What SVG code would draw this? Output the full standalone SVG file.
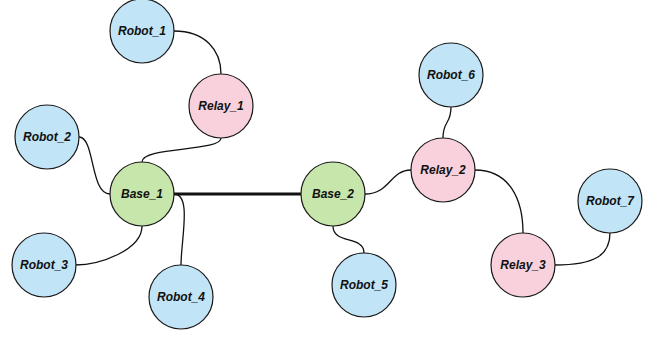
<svg xmlns="http://www.w3.org/2000/svg" width="653" height="337" viewBox="0 0 653 337">
<style>
.n{stroke:#1a1a1a;stroke-width:1.2}
.robot{fill:#c1e4f7}
.relay{fill:#f9d1dc}
.base{fill:#c6e6ab}
text{font-family:"Liberation Sans",Arial,sans-serif;font-size:12px;font-weight:bold;font-style:italic;fill:#111;text-anchor:middle;dominant-baseline:central}
.e{fill:none;stroke:#111;stroke-width:1.3}
</style>
<rect width="653" height="337" fill="#fff"/>
<g id="connectors">
<path class="e" d="M174,31 C205,31 221,50 221,74"/>
<path class="e" d="M221,138 C221,152 142,146 142,162"/>
<path class="e" d="M79,137 C95,137 90,194 110,194"/>
<path class="e" d="M142,226 C142,250 100,265 75,265"/>
<path class="e" d="M174,194 C192,194 181,240 181,265"/>
<path class="e" d="M174,194 L301,194" style="stroke-width:3"/>
<path class="e" d="M333,226 C333,245 364,235 364,253"/>
<path class="e" d="M365,194 C390,194 390,170 411,170"/>
<path class="e" d="M451,107 C451,125 443,120 443,138"/>
<path class="e" d="M475,170 C510,170 523,200 523,233"/>
<path class="e" d="M555,265 C595,265 610,255 610,233"/>
</g>
<g id="Robot_1"><circle class="n robot" cx="142" cy="31" r="32"/><text x="142" y="31">Robot_1</text></g>
<g id="Relay_1"><circle class="n relay" cx="221" cy="106" r="32"/><text x="221" y="106">Relay_1</text></g>
<g id="Robot_2"><circle class="n robot" cx="47" cy="137" r="32"/><text x="47" y="137">Robot_2</text></g>
<g id="Base_1"><circle class="n base" cx="142" cy="194" r="32"/><text x="142" y="194">Base_1</text></g>
<g id="Robot_3"><circle class="n robot" cx="44" cy="265" r="32"/><text x="44" y="265">Robot_3</text></g>
<g id="Robot_4"><circle class="n robot" cx="181" cy="297" r="32"/><text x="181" y="297">Robot_4</text></g>
<g id="Base_2"><circle class="n base" cx="333" cy="194" r="32"/><text x="333" y="194">Base_2</text></g>
<g id="Robot_5"><circle class="n robot" cx="364" cy="285" r="32"/><text x="364" y="285">Robot_5</text></g>
<g id="Robot_6"><circle class="n robot" cx="451" cy="75" r="32"/><text x="451" y="75">Robot_6</text></g>
<g id="Relay_2"><circle class="n relay" cx="443" cy="170" r="32"/><text x="443" y="170">Relay_2</text></g>
<g id="Relay_3"><circle class="n relay" cx="523" cy="265" r="32"/><text x="523" y="265">Relay_3</text></g>
<g id="Robot_7"><circle class="n robot" cx="610" cy="201" r="32"/><text x="610" y="201">Robot_7</text></g>
</svg>
